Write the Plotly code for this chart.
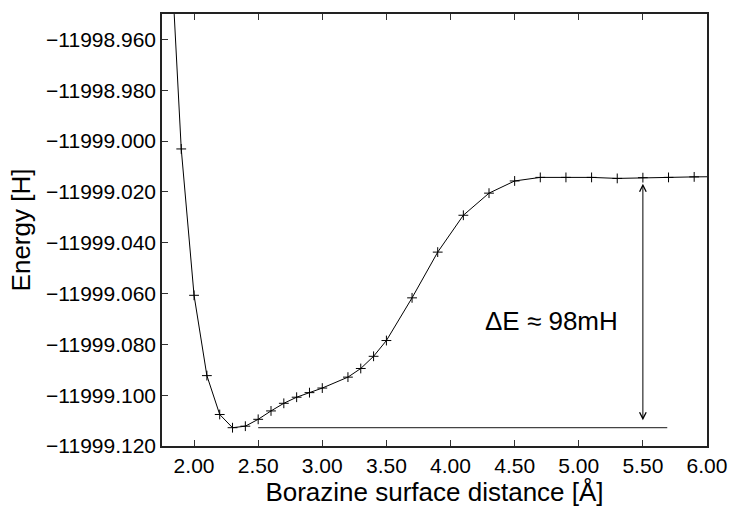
import plotly.graph_objects as go

# Data
distance = [1.80, 1.90, 2.00, 2.10, 2.20, 2.30, 2.40, 2.50, 2.60, 2.70, 2.80, 2.90, 3.00,
            3.20, 3.30, 3.40, 3.50, 3.70, 3.90, 4.10, 4.30, 4.50, 4.70, 4.90, 5.10,
            5.30, 5.50, 5.70, 5.90, 6.10]
energy = [-11998.9066, -11999.0031, -11999.0607, -11999.0923, -11999.1076, -11999.1128,
          -11999.1122, -11999.1095, -11999.1062, -11999.1032, -11999.1008, -11999.0990,
          -11999.0972, -11999.0929, -11999.0895, -11999.0847, -11999.0785, -11999.0617,
          -11999.0437, -11999.0292, -11999.0205, -11999.0157, -11999.0143, -11999.0143,
          -11999.0143, -11999.0147, -11999.0144, -11999.0143, -11999.0141, -11999.0140]

x_range = [1.75, 6.0]
y_range = [-11999.12, -11998.95]
baseline_x = [2.5, 5.69]
arrow_x = 5.5
label_text = "ΔE ≈ 98mH"
label_pos = (4.79, -11999.0707)

e_min = min(energy)
e_plateau = energy[distance.index(arrow_x)]

FONT = "Liberation Sans, Arial, Helvetica, sans-serif"

fig = go.Figure()
fig.add_trace(go.Scatter(
    x=distance, y=energy, mode="lines+markers",
    line=dict(color="black", width=1),
    marker=dict(symbol="cross-thin", size=7, line=dict(color="black", width=1)),
    cliponaxis=True, showlegend=False,
))

# horizontal reference line at the minimum
fig.add_shape(type="line", xref="x", yref="y",
              x0=baseline_x[0], x1=baseline_x[1], y0=e_min, y1=e_min,
              line=dict(color="#444444", width=1.2))

# double-headed arrow
fig.add_annotation(x=arrow_x, y=e_plateau, ax=arrow_x, ay=e_min,
                   xref="x", yref="y", axref="x", ayref="y",
                   showarrow=True, arrowhead=5, startarrowhead=5,
                   arrowside="end+start", arrowsize=1.3, startarrowsize=1.3,
                   arrowwidth=1, arrowcolor="black",
                   standoff=6, startstandoff=6, text="")

fig.add_annotation(x=label_pos[0], y=label_pos[1], xref="x", yref="y",
                   text=label_text, showarrow=False,
                   font=dict(family=FONT, size=26, color="black"))

fig.update_layout(
    width=739, height=511,
    margin=dict(l=162, r=28, t=14, b=57),
    paper_bgcolor="white", plot_bgcolor="white",
    font=dict(family=FONT, color="black"),
    xaxis=dict(
        range=x_range, tick0=2.0, dtick=0.5, tickformat=".2f",
        ticks="inside", ticklen=6, tickwidth=1, tickcolor="#333333",
        showline=True, linecolor="#222222", linewidth=1.5, mirror="ticks",
        showgrid=False, zeroline=False,
        tickfont=dict(family=FONT, size=21),
        title=dict(text="Borazine surface distance [Å]", font=dict(family=FONT, size=26), standoff=4),
    ),
    yaxis=dict(
        range=y_range, tick0=-11999.12, dtick=0.02, tickformat=".3f",
        ticks="inside", ticklen=6, tickwidth=1, tickcolor="#333333",
        showline=True, linecolor="#222222", linewidth=1.5, mirror=True,
        showgrid=False, zeroline=False,
        tickfont=dict(family=FONT, size=21),
        title=dict(text="Energy [H]", font=dict(family=FONT, size=26), standoff=8),
    ),
)

fig.write_html("out.html")
